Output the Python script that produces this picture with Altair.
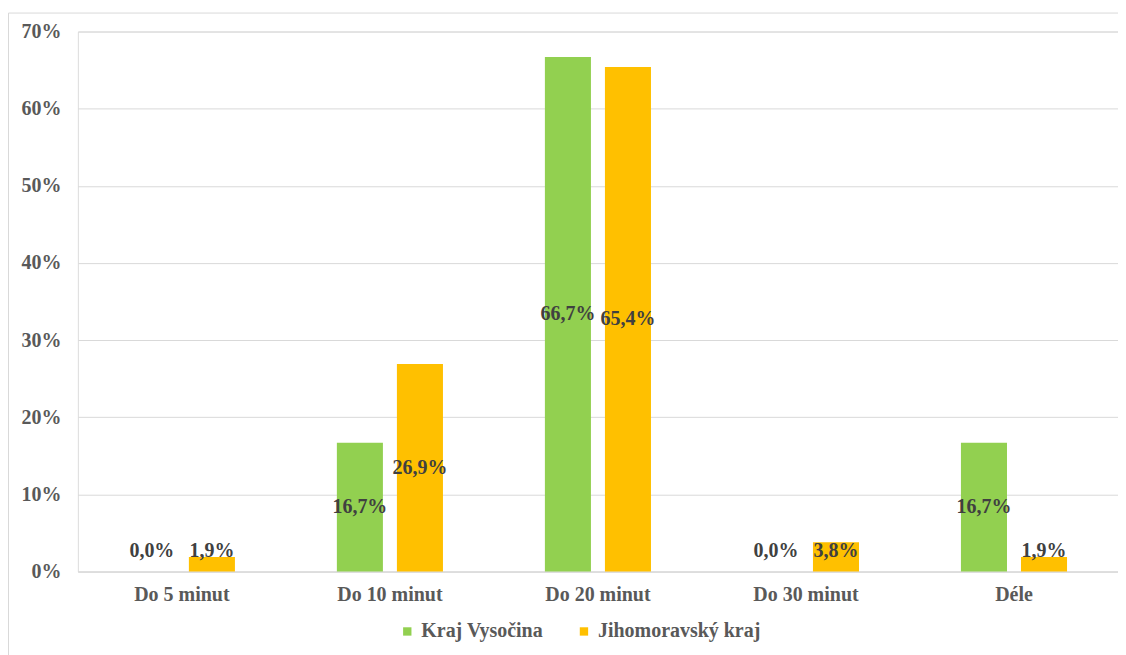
import altair as alt
import pandas as pd

categories = ["Do 5 minut", "Do 10 minut", "Do 20 minut", "Do 30 minut", "Déle"]
series = ["Kraj Vysočina", "Jihomoravský kraj"]
vysocina = [0.000, 0.167, 0.667, 0.000, 0.167]
jihomoravsky = [0.019, 0.269, 0.654, 0.038, 0.019]
colors = ["#92D050", "#FFC000"]

rows = []
for i, c in enumerate(categories):
    rows.append({"cat": c, "series": series[0], "value": vysocina[i]})
    rows.append({"cat": c, "series": series[1], "value": jihomoravsky[i]})
df = pd.DataFrame(rows)

FONT = "'Liberation Serif', 'Times New Roman', serif"
GRAY = "#595959"
LINE = "#d9d9d9"
FS = 20

x = alt.X("cat:N", sort=categories, title=None,
          scale=alt.Scale(paddingInner=0.49, paddingOuter=0.245),
          axis=alt.Axis(labelAngle=0, labelFont=FONT, labelFontSize=FS, labelFontWeight="bold",
                        labelColor=GRAY, ticks=False, domainColor=LINE, labelPadding=13,
                        grid=False))
xo = alt.XOffset("series:N", sort=series, scale=alt.Scale(paddingInner=0.233, paddingOuter=0))

yaxis = alt.Axis(format=".0%", values=[0, 0.1, 0.2, 0.3, 0.4, 0.5, 0.6, 0.7],
                 labelFont=FONT, labelFontSize=FS, labelFontWeight="bold",
                 labelColor=GRAY, ticks=False, domain=False, labelPadding=17,
                 gridColor=LINE, gridWidth=1)

base = alt.Chart(df)

bars = base.mark_bar().encode(
    x=x, xOffset=xo,
    y=alt.Y("value:Q", title=None, scale=alt.Scale(domain=[0, 0.7]), axis=yaxis),
    color=alt.Color("series:N", sort=series, title=None,
                    scale=alt.Scale(domain=series, range=colors),
                    legend=alt.Legend(orient="none", legendX=320, legendY=591, direction="horizontal",
                                      columns=2, symbolType="square", symbolSize=70,
                                      symbolStrokeWidth=0, labelFont=FONT, labelFontSize=FS,
                                      labelFontWeight="bold", labelColor=GRAY, columnPadding=30,
                                      labelOffset=4, labelLimit=400)),
)

labels = base.transform_calculate(
    label="replace(format(datum.value, '.1%'), '.', ',')",
    ypos="max(datum.value / 2, 0.027)",
).mark_text(font=FONT, fontSize=FS, fontWeight="bold", color="#404040", baseline="middle").encode(
    x=x, xOffset=xo,
    y=alt.Y("ypos:Q", title=None, scale=alt.Scale(domain=[0, 0.7]), axis=yaxis),
    text="label:N",
)

frame = pd.DataFrame({"a": [0]})
left_edge = alt.Chart(frame).mark_rule(color=LINE, strokeWidth=1, clip=False).encode(
    x=alt.value(-69.5), y=alt.value(-18.5), y2=alt.value(700)
)
top_edge = alt.Chart(frame).mark_rule(color=LINE, strokeWidth=1, clip=False).encode(
    x=alt.value(-69.5), x2=alt.value(1100), y=alt.value(-18.5)
)

chart = alt.layer(left_edge, top_edge, bars, labels).properties(
    width=1042, height=541,
    autosize=alt.AutoSizeParams(type="none"),
    padding={"left": 70, "top": 23, "right": 0, "bottom": 84},
).configure_view(strokeWidth=0, stroke="transparent").configure(background="white")

chart.save("out.html", embed_options={"renderer": "svg", "actions": False})
